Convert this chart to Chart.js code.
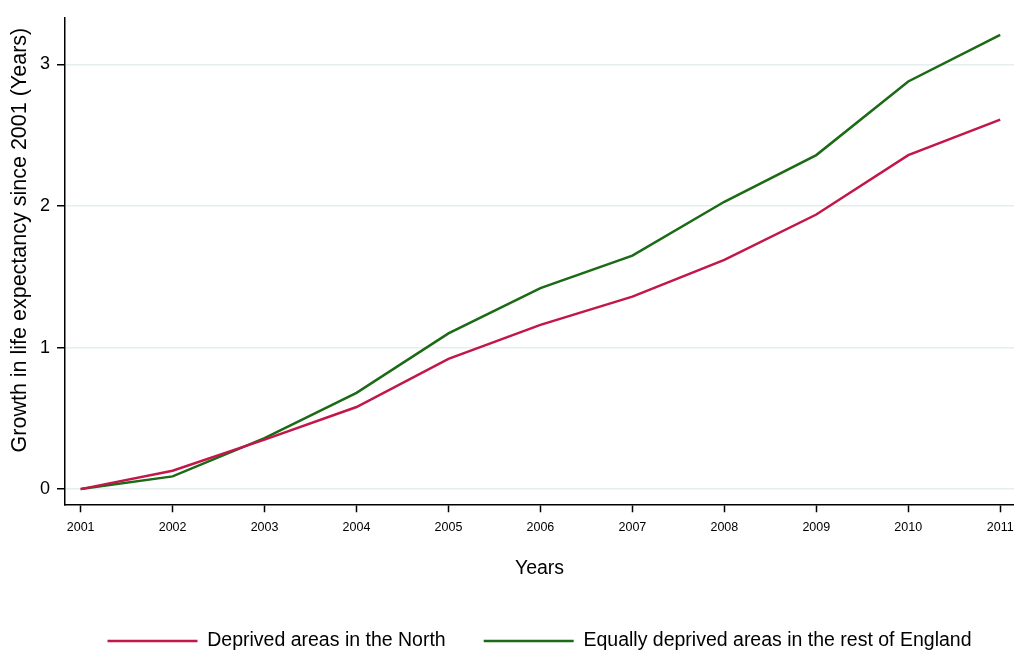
<!DOCTYPE html>
<html lang="en">
<head>
    <meta charset="UTF-8">
    <script src="https://cdn.jsdelivr.net/npm/chart.js"></script>
    <title>Growth in life expectancy</title>
    <style>
        html, body { margin: 0; padding: 0; background: #fff; }
        #wrap { width: 1014px; height: 653px; }
    </style>
</head>
<body>
    <div id="wrap"><canvas id="lifeChart" width="1014" height="653"></canvas></div>

<script>
// data
const years = [2001, 2002, 2003, 2004, 2005, 2006, 2007, 2008, 2009, 2010, 2011];
const northValues = [0, 0.13, 0.35, 0.58, 0.92, 1.16, 1.36, 1.62, 1.94, 2.36, 2.61];
const restValues  = [0, 0.09, 0.36, 0.68, 1.10, 1.42, 1.65, 2.03, 2.36, 2.88, 3.21];
const yTicks = [0, 1, 2, 3];
const seriesNames = ['Deprived areas in the North', 'Equally deprived areas in the rest of England'];

const font = "'Liberation Sans', Arial, Helvetica, sans-serif";

const ctx = document.getElementById('lifeChart').getContext('2d');
new Chart(ctx, {
    type: 'line',
    data: {
        datasets: [{
            label: seriesNames[0],
            data: years.map((y, i) => ({ x: y, y: northValues[i] })),
            borderColor: '#c2174a',
            backgroundColor: '#c2174a',
            borderWidth: 2.5,
            pointRadius: 0,
            tension: 0
        }, {
            label: seriesNames[1],
            data: years.map((y, i) => ({ x: y, y: restValues[i] })),
            borderColor: '#1b6a15',
            backgroundColor: '#1b6a15',
            borderWidth: 2.5,
            pointRadius: 0,
            tension: 0
        }]
    },
    options: {
        responsive: false,
        animation: false,
        // slightly negative bottom so the legend sits low, like the original
        layout: { padding: { top: 15, right: 0, bottom: -7.75, left: 0 } },
        plugins: {
            tooltip: { enabled: false },
            legend: {
                position: 'bottom',
                fullSize: false,
                labels: {
                    usePointStyle: true,
                    pointStyle: 'line',
                    pointStyleWidth: 90,
                    boxHeight: 19.5,
                    padding: 38,
                    color: '#000',
                    font: { family: font, size: 19.5 }
                }
            }
        },
        scales: {
            x: {
                type: 'linear',
                min: 2000.83,
                max: 2011.15,
                afterBuildTicks: s => { s.ticks = years.map(v => ({ value: v })); },
                afterFit: s => { s.height = 89; s.paddingLeft = 0; s.paddingRight = 0; },
                ticks: {
                    color: '#000',
                    font: { family: font, size: 12.5 },
                    padding: 8,
                    maxRotation: 0,
                    callback: v => String(v)
                },
                grid: { drawOnChartArea: false, drawTicks: true, tickLength: 8, tickColor: '#000', tickWidth: 1.5 },
                border: { display: true, color: '#000', width: 1.5 },
                title: {
                    display: true,
                    text: 'Years',
                    color: '#000',
                    font: { family: font, size: 19.5 },
                    padding: { top: 0, bottom: 12.5 }
                }
            },
            y: {
                min: -0.107,
                max: 3.33,
                afterBuildTicks: s => { s.ticks = yTicks.map(v => ({ value: v })); },
                afterFit: s => { s.width = 65; },
                ticks: {
                    color: '#000',
                    font: { family: font, size: 18 },
                    padding: 7
                },
                grid: { color: '#e4eeee', lineWidth: 1.5, tickLength: 8, tickColor: '#000', tickWidth: 1.5 },
                border: { display: true, color: '#000', width: 1.5 },
                title: {
                    display: true,
                    // leading spaces lift the rotated title a little, as in the original
                    text: '       Growth in life expectancy since 2001 (Years)',
                    color: '#000',
                    font: { family: font, size: 21.5 },
                    padding: { top: 7, bottom: 0 }
                }
            }
        }
    }
});
</script>
</body>
</html>
